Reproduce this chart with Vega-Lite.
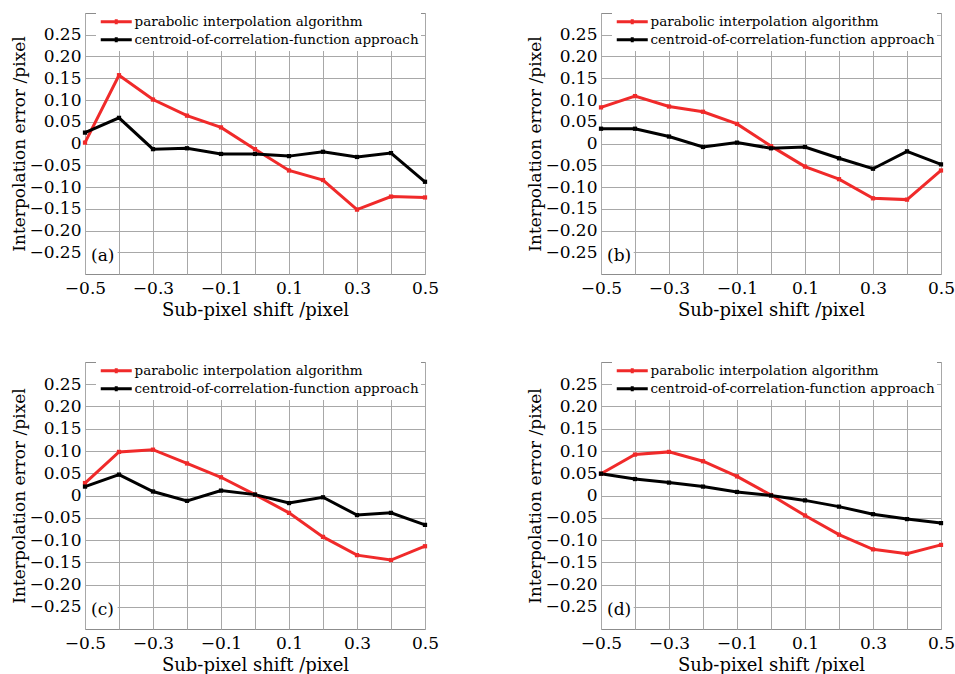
{
  "$schema": "https://vega.github.io/schema/vega-lite/v6.json",
  "padding": {"left": 10, "top": 12, "right": 0, "bottom": 0},
  "background": "white",
  "config": {
    "font": "DejaVu Serif",
    "view": {"stroke": "#8c8c8c", "strokeWidth": 1},
    "axis": {"domain": false, "ticks": false, "grid": true, "gridColor": "#a8a8a8", "gridWidth": 1, "gridOpacity": 1, "labelFont": "DejaVu Serif", "labelFontSize": 17, "labelColor": "#000", "titleFont": "DejaVu Serif", "titleFontSize": 17, "titleFontWeight": "normal", "titleColor": "#000", "labelFlush": false, "labelOverlap": false, "tickCount": 30},
    "axisX": {"labelPadding": 6, "titlePadding": 5, "titleFontSize": 18},
    "axisY": {"labelPadding": 4, "titlePadding": 0},
    "legend": {"labelFont": "DejaVu Serif", "labelFontSize": 13.5, "labelColor": "#000", "labelOffset": 23, "padding": 2, "fillColor": "white", "symbolType": "M-1,0H6.75M2.875,-0.6V0.6", "symbolSize": 64, "symbolStrokeWidth": 3, "rowPadding": 0, "labelLimit": 400}
  },
  "data": {"values": [
    {"panel": "a", "method": "parabolic interpolation algorithm", "shift": -0.5, "error": 0.002},
    {"panel": "a", "method": "parabolic interpolation algorithm", "shift": -0.4, "error": 0.157},
    {"panel": "a", "method": "parabolic interpolation algorithm", "shift": -0.3, "error": 0.101},
    {"panel": "a", "method": "parabolic interpolation algorithm", "shift": -0.2, "error": 0.064},
    {"panel": "a", "method": "parabolic interpolation algorithm", "shift": -0.1, "error": 0.037},
    {"panel": "a", "method": "parabolic interpolation algorithm", "shift": 0, "error": -0.013},
    {"panel": "a", "method": "parabolic interpolation algorithm", "shift": 0.1, "error": -0.062},
    {"panel": "a", "method": "parabolic interpolation algorithm", "shift": 0.2, "error": -0.084},
    {"panel": "a", "method": "parabolic interpolation algorithm", "shift": 0.3, "error": -0.152},
    {"panel": "a", "method": "parabolic interpolation algorithm", "shift": 0.4, "error": -0.122},
    {"panel": "a", "method": "parabolic interpolation algorithm", "shift": 0.5, "error": -0.124},
    {"panel": "a", "method": "centroid-of-correlation-function approach", "shift": -0.5, "error": 0.025},
    {"panel": "a", "method": "centroid-of-correlation-function approach", "shift": -0.4, "error": 0.059},
    {"panel": "a", "method": "centroid-of-correlation-function approach", "shift": -0.3, "error": -0.013},
    {"panel": "a", "method": "centroid-of-correlation-function approach", "shift": -0.2, "error": -0.011},
    {"panel": "a", "method": "centroid-of-correlation-function approach", "shift": -0.1, "error": -0.024},
    {"panel": "a", "method": "centroid-of-correlation-function approach", "shift": 0, "error": -0.024},
    {"panel": "a", "method": "centroid-of-correlation-function approach", "shift": 0.1, "error": -0.029},
    {"panel": "a", "method": "centroid-of-correlation-function approach", "shift": 0.2, "error": -0.019},
    {"panel": "a", "method": "centroid-of-correlation-function approach", "shift": 0.3, "error": -0.031},
    {"panel": "a", "method": "centroid-of-correlation-function approach", "shift": 0.4, "error": -0.022},
    {"panel": "a", "method": "centroid-of-correlation-function approach", "shift": 0.5, "error": -0.088},
    {"panel": "b", "method": "parabolic interpolation algorithm", "shift": -0.5, "error": 0.083},
    {"panel": "b", "method": "parabolic interpolation algorithm", "shift": -0.4, "error": 0.109},
    {"panel": "b", "method": "parabolic interpolation algorithm", "shift": -0.3, "error": 0.085},
    {"panel": "b", "method": "parabolic interpolation algorithm", "shift": -0.2, "error": 0.073},
    {"panel": "b", "method": "parabolic interpolation algorithm", "shift": -0.1, "error": 0.045},
    {"panel": "b", "method": "parabolic interpolation algorithm", "shift": 0, "error": -0.006},
    {"panel": "b", "method": "parabolic interpolation algorithm", "shift": 0.1, "error": -0.053},
    {"panel": "b", "method": "parabolic interpolation algorithm", "shift": 0.2, "error": -0.082},
    {"panel": "b", "method": "parabolic interpolation algorithm", "shift": 0.3, "error": -0.126},
    {"panel": "b", "method": "parabolic interpolation algorithm", "shift": 0.4, "error": -0.129},
    {"panel": "b", "method": "parabolic interpolation algorithm", "shift": 0.5, "error": -0.062},
    {"panel": "b", "method": "centroid-of-correlation-function approach", "shift": -0.5, "error": 0.034},
    {"panel": "b", "method": "centroid-of-correlation-function approach", "shift": -0.4, "error": 0.034},
    {"panel": "b", "method": "centroid-of-correlation-function approach", "shift": -0.3, "error": 0.016},
    {"panel": "b", "method": "centroid-of-correlation-function approach", "shift": -0.2, "error": -0.008},
    {"panel": "b", "method": "centroid-of-correlation-function approach", "shift": -0.1, "error": 0.002},
    {"panel": "b", "method": "centroid-of-correlation-function approach", "shift": 0, "error": -0.011},
    {"panel": "b", "method": "centroid-of-correlation-function approach", "shift": 0.1, "error": -0.008},
    {"panel": "b", "method": "centroid-of-correlation-function approach", "shift": 0.2, "error": -0.034},
    {"panel": "b", "method": "centroid-of-correlation-function approach", "shift": 0.3, "error": -0.058},
    {"panel": "b", "method": "centroid-of-correlation-function approach", "shift": 0.4, "error": -0.018},
    {"panel": "b", "method": "centroid-of-correlation-function approach", "shift": 0.5, "error": -0.048},
    {"panel": "c", "method": "parabolic interpolation algorithm", "shift": -0.5, "error": 0.028},
    {"panel": "c", "method": "parabolic interpolation algorithm", "shift": -0.4, "error": 0.098},
    {"panel": "c", "method": "parabolic interpolation algorithm", "shift": -0.3, "error": 0.103},
    {"panel": "c", "method": "parabolic interpolation algorithm", "shift": -0.2, "error": 0.072},
    {"panel": "c", "method": "parabolic interpolation algorithm", "shift": -0.1, "error": 0.041},
    {"panel": "c", "method": "parabolic interpolation algorithm", "shift": 0, "error": 0.002},
    {"panel": "c", "method": "parabolic interpolation algorithm", "shift": 0.1, "error": -0.039},
    {"panel": "c", "method": "parabolic interpolation algorithm", "shift": 0.2, "error": -0.093},
    {"panel": "c", "method": "parabolic interpolation algorithm", "shift": 0.3, "error": -0.134},
    {"panel": "c", "method": "parabolic interpolation algorithm", "shift": 0.4, "error": -0.145},
    {"panel": "c", "method": "parabolic interpolation algorithm", "shift": 0.5, "error": -0.114},
    {"panel": "c", "method": "centroid-of-correlation-function approach", "shift": -0.5, "error": 0.020},
    {"panel": "c", "method": "centroid-of-correlation-function approach", "shift": -0.4, "error": 0.047},
    {"panel": "c", "method": "centroid-of-correlation-function approach", "shift": -0.3, "error": 0.009},
    {"panel": "c", "method": "centroid-of-correlation-function approach", "shift": -0.2, "error": -0.012},
    {"panel": "c", "method": "centroid-of-correlation-function approach", "shift": -0.1, "error": 0.011},
    {"panel": "c", "method": "centroid-of-correlation-function approach", "shift": 0, "error": 0.002},
    {"panel": "c", "method": "centroid-of-correlation-function approach", "shift": 0.1, "error": -0.017},
    {"panel": "c", "method": "centroid-of-correlation-function approach", "shift": 0.2, "error": -0.004},
    {"panel": "c", "method": "centroid-of-correlation-function approach", "shift": 0.3, "error": -0.044},
    {"panel": "c", "method": "centroid-of-correlation-function approach", "shift": 0.4, "error": -0.039},
    {"panel": "c", "method": "centroid-of-correlation-function approach", "shift": 0.5, "error": -0.066},
    {"panel": "d", "method": "parabolic interpolation algorithm", "shift": -0.5, "error": 0.049},
    {"panel": "d", "method": "parabolic interpolation algorithm", "shift": -0.4, "error": 0.092},
    {"panel": "d", "method": "parabolic interpolation algorithm", "shift": -0.3, "error": 0.098},
    {"panel": "d", "method": "parabolic interpolation algorithm", "shift": -0.2, "error": 0.077},
    {"panel": "d", "method": "parabolic interpolation algorithm", "shift": -0.1, "error": 0.043},
    {"panel": "d", "method": "parabolic interpolation algorithm", "shift": 0, "error": 0.001},
    {"panel": "d", "method": "parabolic interpolation algorithm", "shift": 0.1, "error": -0.045},
    {"panel": "d", "method": "parabolic interpolation algorithm", "shift": 0.2, "error": -0.088},
    {"panel": "d", "method": "parabolic interpolation algorithm", "shift": 0.3, "error": -0.121},
    {"panel": "d", "method": "parabolic interpolation algorithm", "shift": 0.4, "error": -0.131},
    {"panel": "d", "method": "parabolic interpolation algorithm", "shift": 0.5, "error": -0.111},
    {"panel": "d", "method": "centroid-of-correlation-function approach", "shift": -0.5, "error": 0.049},
    {"panel": "d", "method": "centroid-of-correlation-function approach", "shift": -0.4, "error": 0.037},
    {"panel": "d", "method": "centroid-of-correlation-function approach", "shift": -0.3, "error": 0.029},
    {"panel": "d", "method": "centroid-of-correlation-function approach", "shift": -0.2, "error": 0.020},
    {"panel": "d", "method": "centroid-of-correlation-function approach", "shift": -0.1, "error": 0.008},
    {"panel": "d", "method": "centroid-of-correlation-function approach", "shift": 0, "error": 0.0},
    {"panel": "d", "method": "centroid-of-correlation-function approach", "shift": 0.1, "error": -0.011},
    {"panel": "d", "method": "centroid-of-correlation-function approach", "shift": 0.2, "error": -0.025},
    {"panel": "d", "method": "centroid-of-correlation-function approach", "shift": 0.3, "error": -0.042},
    {"panel": "d", "method": "centroid-of-correlation-function approach", "shift": 0.4, "error": -0.053},
    {"panel": "d", "method": "centroid-of-correlation-function approach", "shift": 0.5, "error": -0.062}
  ]},
  "columns": 2,
  "spacing": {"column": 86, "row": 41},
  "resolve": {"legend": {"color": "independent"}},
  "concat": [
    {
      "width": 340, "height": 261,
      "layer": [
        {"data": {"values": [{}]}, "mark": {"type": "rect", "color": "white"}, "encoding": {"x": {"datum": -0.497, "type": "quantitative"}, "x2": {"datum": -0.404}, "y": {"datum": -0.232, "type": "quantitative"}, "y2": {"datum": -0.287}}},
        {"transform": [{"filter": "datum.panel == 'a'"}], "mark": {"type": "line", "strokeWidth": 3, "point": {"shape": "square", "size": 18, "filled": true}},
         "encoding": {
           "x": {"field": "shift", "type": "quantitative", "scale": {"domain": [-0.5, 0.5], "nice": false, "zero": false}, "axis": {"title": "Sub-pixel shift /pixel", "values": [-0.5, -0.4, -0.3, -0.2, -0.1, 0, 0.1, 0.2, 0.3, 0.4, 0.5], "labelExpr": "abs(round(datum.value*10)) % 2 == 1 ? format(datum.value, '.1f') : ''"}},
           "y": {"field": "error", "type": "quantitative", "scale": {"domain": [-0.3, 0.3], "nice": false, "zero": false}, "axis": {"title": "Interpolation error /pixel", "values": [-0.25, -0.2, -0.15, -0.1, -0.05, 0, 0.05, 0.1, 0.15, 0.2, 0.25], "labelExpr": "datum.value == 0 ? '0' : format(datum.value, '.2f')"}},
           "color": {"field": "method", "type": "nominal", "sort": null, "scale": {"domain": ["parabolic interpolation algorithm", "centroid-of-correlation-function approach"], "range": ["#f02a2a", "#000000"]}, "legend": {"title": null, "orient": "none", "legendX": 11, "legendY": 0}}
         }},
        {"data": {"values": [{}]}, "mark": {"type": "text", "align": "left", "baseline": "middle", "dx": 6, "font": "DejaVu Serif", "fontSize": 17, "color": "#000"}, "encoding": {"x": {"datum": -0.5, "type": "quantitative"}, "y": {"datum": -0.258, "type": "quantitative"}, "text": {"value": "(a)"}}}
      ]
    },
    {
      "width": 340, "height": 261,
      "layer": [
        {"data": {"values": [{}]}, "mark": {"type": "rect", "color": "white"}, "encoding": {"x": {"datum": -0.497, "type": "quantitative"}, "x2": {"datum": -0.404}, "y": {"datum": -0.232, "type": "quantitative"}, "y2": {"datum": -0.287}}},
        {"transform": [{"filter": "datum.panel == 'b'"}], "mark": {"type": "line", "strokeWidth": 3, "point": {"shape": "square", "size": 18, "filled": true}},
         "encoding": {
           "x": {"field": "shift", "type": "quantitative", "scale": {"domain": [-0.5, 0.5], "nice": false, "zero": false}, "axis": {"title": "Sub-pixel shift /pixel", "values": [-0.5, -0.4, -0.3, -0.2, -0.1, 0, 0.1, 0.2, 0.3, 0.4, 0.5], "labelExpr": "abs(round(datum.value*10)) % 2 == 1 ? format(datum.value, '.1f') : ''"}},
           "y": {"field": "error", "type": "quantitative", "scale": {"domain": [-0.3, 0.3], "nice": false, "zero": false}, "axis": {"title": "Interpolation error /pixel", "values": [-0.25, -0.2, -0.15, -0.1, -0.05, 0, 0.05, 0.1, 0.15, 0.2, 0.25], "labelExpr": "datum.value == 0 ? '0' : format(datum.value, '.2f')"}},
           "color": {"field": "method", "type": "nominal", "sort": null, "scale": {"domain": ["parabolic interpolation algorithm", "centroid-of-correlation-function approach"], "range": ["#f02a2a", "#000000"]}, "legend": {"title": null, "orient": "none", "legendX": 11, "legendY": 0}}
         }},
        {"data": {"values": [{}]}, "mark": {"type": "text", "align": "left", "baseline": "middle", "dx": 6, "font": "DejaVu Serif", "fontSize": 17, "color": "#000"}, "encoding": {"x": {"datum": -0.5, "type": "quantitative"}, "y": {"datum": -0.258, "type": "quantitative"}, "text": {"value": "(b)"}}}
      ]
    },
    {
      "width": 340, "height": 267,
      "layer": [
        {"data": {"values": [{}]}, "mark": {"type": "rect", "color": "white"}, "encoding": {"x": {"datum": -0.497, "type": "quantitative"}, "x2": {"datum": -0.404}, "y": {"datum": -0.232, "type": "quantitative"}, "y2": {"datum": -0.287}}},
        {"transform": [{"filter": "datum.panel == 'c'"}], "mark": {"type": "line", "strokeWidth": 3, "point": {"shape": "square", "size": 18, "filled": true}},
         "encoding": {
           "x": {"field": "shift", "type": "quantitative", "scale": {"domain": [-0.5, 0.5], "nice": false, "zero": false}, "axis": {"title": "Sub-pixel shift /pixel", "values": [-0.5, -0.4, -0.3, -0.2, -0.1, 0, 0.1, 0.2, 0.3, 0.4, 0.5], "labelExpr": "abs(round(datum.value*10)) % 2 == 1 ? format(datum.value, '.1f') : ''"}},
           "y": {"field": "error", "type": "quantitative", "scale": {"domain": [-0.3, 0.3], "nice": false, "zero": false}, "axis": {"title": "Interpolation error /pixel", "values": [-0.25, -0.2, -0.15, -0.1, -0.05, 0, 0.05, 0.1, 0.15, 0.2, 0.25], "labelExpr": "datum.value == 0 ? '0' : format(datum.value, '.2f')"}},
           "color": {"field": "method", "type": "nominal", "sort": null, "scale": {"domain": ["parabolic interpolation algorithm", "centroid-of-correlation-function approach"], "range": ["#f02a2a", "#000000"]}, "legend": {"title": null, "orient": "none", "legendX": 11, "legendY": 0}}
         }},
        {"data": {"values": [{}]}, "mark": {"type": "text", "align": "left", "baseline": "middle", "dx": 6, "font": "DejaVu Serif", "fontSize": 17, "color": "#000"}, "encoding": {"x": {"datum": -0.5, "type": "quantitative"}, "y": {"datum": -0.258, "type": "quantitative"}, "text": {"value": "(c)"}}}
      ]
    },
    {
      "width": 340, "height": 267,
      "layer": [
        {"data": {"values": [{}]}, "mark": {"type": "rect", "color": "white"}, "encoding": {"x": {"datum": -0.497, "type": "quantitative"}, "x2": {"datum": -0.404}, "y": {"datum": -0.232, "type": "quantitative"}, "y2": {"datum": -0.287}}},
        {"transform": [{"filter": "datum.panel == 'd'"}], "mark": {"type": "line", "strokeWidth": 3, "point": {"shape": "square", "size": 18, "filled": true}},
         "encoding": {
           "x": {"field": "shift", "type": "quantitative", "scale": {"domain": [-0.5, 0.5], "nice": false, "zero": false}, "axis": {"title": "Sub-pixel shift /pixel", "values": [-0.5, -0.4, -0.3, -0.2, -0.1, 0, 0.1, 0.2, 0.3, 0.4, 0.5], "labelExpr": "abs(round(datum.value*10)) % 2 == 1 ? format(datum.value, '.1f') : ''"}},
           "y": {"field": "error", "type": "quantitative", "scale": {"domain": [-0.3, 0.3], "nice": false, "zero": false}, "axis": {"title": "Interpolation error /pixel", "values": [-0.25, -0.2, -0.15, -0.1, -0.05, 0, 0.05, 0.1, 0.15, 0.2, 0.25], "labelExpr": "datum.value == 0 ? '0' : format(datum.value, '.2f')"}},
           "color": {"field": "method", "type": "nominal", "sort": null, "scale": {"domain": ["parabolic interpolation algorithm", "centroid-of-correlation-function approach"], "range": ["#f02a2a", "#000000"]}, "legend": {"title": null, "orient": "none", "legendX": 11, "legendY": 0}}
         }},
        {"data": {"values": [{}]}, "mark": {"type": "text", "align": "left", "baseline": "middle", "dx": 6, "font": "DejaVu Serif", "fontSize": 17, "color": "#000"}, "encoding": {"x": {"datum": -0.5, "type": "quantitative"}, "y": {"datum": -0.258, "type": "quantitative"}, "text": {"value": "(d)"}}}
      ]
    }
  ]
}
